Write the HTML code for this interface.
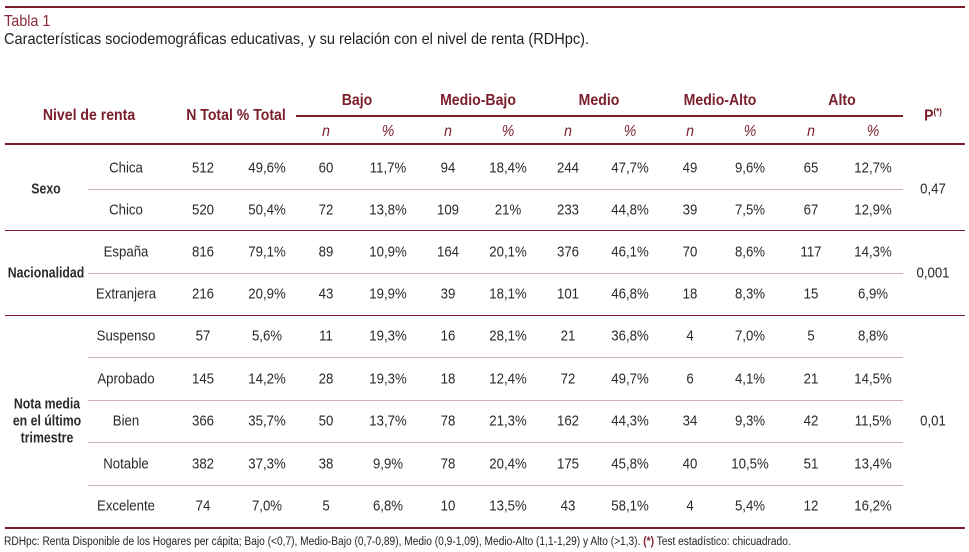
<!DOCTYPE html>
<html><head><meta charset="utf-8"><style>
body{margin:0;width:969px;height:552px;background:#fff;position:relative;overflow:hidden;font-family:"Liberation Sans Narrow","Liberation Sans",sans-serif;color:#2a2a2a}
.c{position:absolute;transform:translate(-50%,-50%) scaleX(0.88);white-space:nowrap;font-size:15px;line-height:1}
.h{font-weight:bold;color:#7b1e2c;font-size:16px}
.i{font-style:italic;color:#7b1e2c;font-size:16px}
.l{position:absolute;background:#7b1e2c}
.t{position:absolute;background:#cfb2b5;height:1px}
.g{text-align:center;line-height:17px;font-weight:bold;font-size:15px;transform:translate(-50%,-50%) scaleX(0.82)}
</style></head><body>
<div class="l" style="left:5px;top:6px;width:960px;height:2px"></div>
<div style="position:absolute;left:4px;top:13px;font-size:16px;color:#8b2a35;transform:scaleX(0.9);transform-origin:left">Tabla 1</div>
<div style="position:absolute;left:4px;top:31px;font-size:16px;color:#222;white-space:nowrap;transform:scaleX(0.91);transform-origin:left">Características sociodemográficas educativas, y su relación con el nivel de renta (RDHpc).</div>

<div class="c h" style="left:89px;top:116px">Nivel de renta</div>
<div class="c h" style="left:236px;top:116px">N Total % Total</div>
<div class="l" style="left:296px;top:115px;width:607px;height:2px"></div>
<div class="c h" style="left:357px;top:101px">Bajo</div>
<div class="c h" style="left:478px;top:101px">Medio-Bajo</div>
<div class="c h" style="left:599px;top:101px">Medio</div>
<div class="c h" style="left:720px;top:101px">Medio-Alto</div>
<div class="c h" style="left:842px;top:101px">Alto</div>
<div class="c h" style="left:933px;top:116px">P<sup style="font-size:9px">(*)</sup></div>
<div class="c i" style="left:326px;top:132px">n</div><div class="c i" style="left:388px;top:132px">%</div>
<div class="c i" style="left:448px;top:132px">n</div><div class="c i" style="left:508px;top:132px">%</div>
<div class="c i" style="left:568px;top:132px">n</div><div class="c i" style="left:630px;top:132px">%</div>
<div class="c i" style="left:690px;top:132px">n</div><div class="c i" style="left:750px;top:132px">%</div>
<div class="c i" style="left:811px;top:132px">n</div><div class="c i" style="left:873px;top:132px">%</div>
<div class="l" style="left:5px;top:143px;width:960px;height:2px"></div>

<div class="l" style="left:5px;top:230px;width:960px;height:1px"></div>
<div class="l" style="left:5px;top:315px;width:960px;height:1px"></div>
<div class="l" style="left:5px;top:527px;width:960px;height:2px"></div>
<div class="t" style="left:88px;top:189px;width:815px"></div>
<div class="t" style="left:88px;top:273px;width:815px"></div>
<div class="t" style="left:88px;top:357px;width:815px"></div>
<div class="t" style="left:88px;top:400px;width:815px"></div>
<div class="t" style="left:88px;top:442px;width:815px"></div>
<div class="t" style="left:88px;top:485px;width:815px"></div>

<div class="c g" style="left:46px;top:189px">Sexo</div>
<div class="c g" style="left:46px;top:273px">Nacionalidad</div>
<div class="c g" style="left:47px;top:421px">Nota media<br>en el último<br>trimestre</div>
<div class="c" style="left:933px;top:189px">0,47</div>
<div class="c" style="left:933px;top:273px">0,001</div>
<div class="c" style="left:933px;top:421px">0,01</div>

<div class="c" style="left:126px;top:168px">Chica</div><div class="c" style="left:203px;top:168px">512</div><div class="c" style="left:267px;top:168px">49,6%</div><div class="c" style="left:326px;top:168px">60</div><div class="c" style="left:388px;top:168px">11,7%</div><div class="c" style="left:448px;top:168px">94</div><div class="c" style="left:508px;top:168px">18,4%</div><div class="c" style="left:568px;top:168px">244</div><div class="c" style="left:630px;top:168px">47,7%</div><div class="c" style="left:690px;top:168px">49</div><div class="c" style="left:750px;top:168px">9,6%</div><div class="c" style="left:811px;top:168px">65</div><div class="c" style="left:873px;top:168px">12,7%</div>

<div class="c" style="left:126px;top:210px">Chico</div><div class="c" style="left:203px;top:210px">520</div><div class="c" style="left:267px;top:210px">50,4%</div><div class="c" style="left:326px;top:210px">72</div><div class="c" style="left:388px;top:210px">13,8%</div><div class="c" style="left:448px;top:210px">109</div><div class="c" style="left:508px;top:210px">21%</div><div class="c" style="left:568px;top:210px">233</div><div class="c" style="left:630px;top:210px">44,8%</div><div class="c" style="left:690px;top:210px">39</div><div class="c" style="left:750px;top:210px">7,5%</div><div class="c" style="left:811px;top:210px">67</div><div class="c" style="left:873px;top:210px">12,9%</div>

<div class="c" style="left:126px;top:252px">España</div><div class="c" style="left:203px;top:252px">816</div><div class="c" style="left:267px;top:252px">79,1%</div><div class="c" style="left:326px;top:252px">89</div><div class="c" style="left:388px;top:252px">10,9%</div><div class="c" style="left:448px;top:252px">164</div><div class="c" style="left:508px;top:252px">20,1%</div><div class="c" style="left:568px;top:252px">376</div><div class="c" style="left:630px;top:252px">46,1%</div><div class="c" style="left:690px;top:252px">70</div><div class="c" style="left:750px;top:252px">8,6%</div><div class="c" style="left:811px;top:252px">117</div><div class="c" style="left:873px;top:252px">14,3%</div>

<div class="c" style="left:126px;top:294px">Extranjera</div><div class="c" style="left:203px;top:294px">216</div><div class="c" style="left:267px;top:294px">20,9%</div><div class="c" style="left:326px;top:294px">43</div><div class="c" style="left:388px;top:294px">19,9%</div><div class="c" style="left:448px;top:294px">39</div><div class="c" style="left:508px;top:294px">18,1%</div><div class="c" style="left:568px;top:294px">101</div><div class="c" style="left:630px;top:294px">46,8%</div><div class="c" style="left:690px;top:294px">18</div><div class="c" style="left:750px;top:294px">8,3%</div><div class="c" style="left:811px;top:294px">15</div><div class="c" style="left:873px;top:294px">6,9%</div>

<div class="c" style="left:126px;top:336px">Suspenso</div><div class="c" style="left:203px;top:336px">57</div><div class="c" style="left:267px;top:336px">5,6%</div><div class="c" style="left:326px;top:336px">11</div><div class="c" style="left:388px;top:336px">19,3%</div><div class="c" style="left:448px;top:336px">16</div><div class="c" style="left:508px;top:336px">28,1%</div><div class="c" style="left:568px;top:336px">21</div><div class="c" style="left:630px;top:336px">36,8%</div><div class="c" style="left:690px;top:336px">4</div><div class="c" style="left:750px;top:336px">7,0%</div><div class="c" style="left:811px;top:336px">5</div><div class="c" style="left:873px;top:336px">8,8%</div>

<div class="c" style="left:126px;top:379px">Aprobado</div><div class="c" style="left:203px;top:379px">145</div><div class="c" style="left:267px;top:379px">14,2%</div><div class="c" style="left:326px;top:379px">28</div><div class="c" style="left:388px;top:379px">19,3%</div><div class="c" style="left:448px;top:379px">18</div><div class="c" style="left:508px;top:379px">12,4%</div><div class="c" style="left:568px;top:379px">72</div><div class="c" style="left:630px;top:379px">49,7%</div><div class="c" style="left:690px;top:379px">6</div><div class="c" style="left:750px;top:379px">4,1%</div><div class="c" style="left:811px;top:379px">21</div><div class="c" style="left:873px;top:379px">14,5%</div>

<div class="c" style="left:126px;top:421px">Bien</div><div class="c" style="left:203px;top:421px">366</div><div class="c" style="left:267px;top:421px">35,7%</div><div class="c" style="left:326px;top:421px">50</div><div class="c" style="left:388px;top:421px">13,7%</div><div class="c" style="left:448px;top:421px">78</div><div class="c" style="left:508px;top:421px">21,3%</div><div class="c" style="left:568px;top:421px">162</div><div class="c" style="left:630px;top:421px">44,3%</div><div class="c" style="left:690px;top:421px">34</div><div class="c" style="left:750px;top:421px">9,3%</div><div class="c" style="left:811px;top:421px">42</div><div class="c" style="left:873px;top:421px">11,5%</div>

<div class="c" style="left:126px;top:464px">Notable</div><div class="c" style="left:203px;top:464px">382</div><div class="c" style="left:267px;top:464px">37,3%</div><div class="c" style="left:326px;top:464px">38</div><div class="c" style="left:388px;top:464px">9,9%</div><div class="c" style="left:448px;top:464px">78</div><div class="c" style="left:508px;top:464px">20,4%</div><div class="c" style="left:568px;top:464px">175</div><div class="c" style="left:630px;top:464px">45,8%</div><div class="c" style="left:690px;top:464px">40</div><div class="c" style="left:750px;top:464px">10,5%</div><div class="c" style="left:811px;top:464px">51</div><div class="c" style="left:873px;top:464px">13,4%</div>

<div class="c" style="left:126px;top:506px">Excelente</div><div class="c" style="left:203px;top:506px">74</div><div class="c" style="left:267px;top:506px">7,0%</div><div class="c" style="left:326px;top:506px">5</div><div class="c" style="left:388px;top:506px">6,8%</div><div class="c" style="left:448px;top:506px">10</div><div class="c" style="left:508px;top:506px">13,5%</div><div class="c" style="left:568px;top:506px">43</div><div class="c" style="left:630px;top:506px">58,1%</div><div class="c" style="left:690px;top:506px">4</div><div class="c" style="left:750px;top:506px">5,4%</div><div class="c" style="left:811px;top:506px">12</div><div class="c" style="left:873px;top:506px">16,2%</div>

<div style="position:absolute;left:4px;top:536px;font-size:11.5px;color:#222;white-space:nowrap;transform:scaleX(0.885);transform-origin:left">RDHpc: Renta Disponible de los Hogares per cápita; Bajo (&lt;0,7), Medio-Bajo (0,7-0,89), Medio (0,9-1,09), Medio-Alto (1,1-1,29) y Alto (&gt;1,3). <b style="color:#7b1e2c">(*)</b> Test estadístico: chicuadrado.</div>
</body></html>
